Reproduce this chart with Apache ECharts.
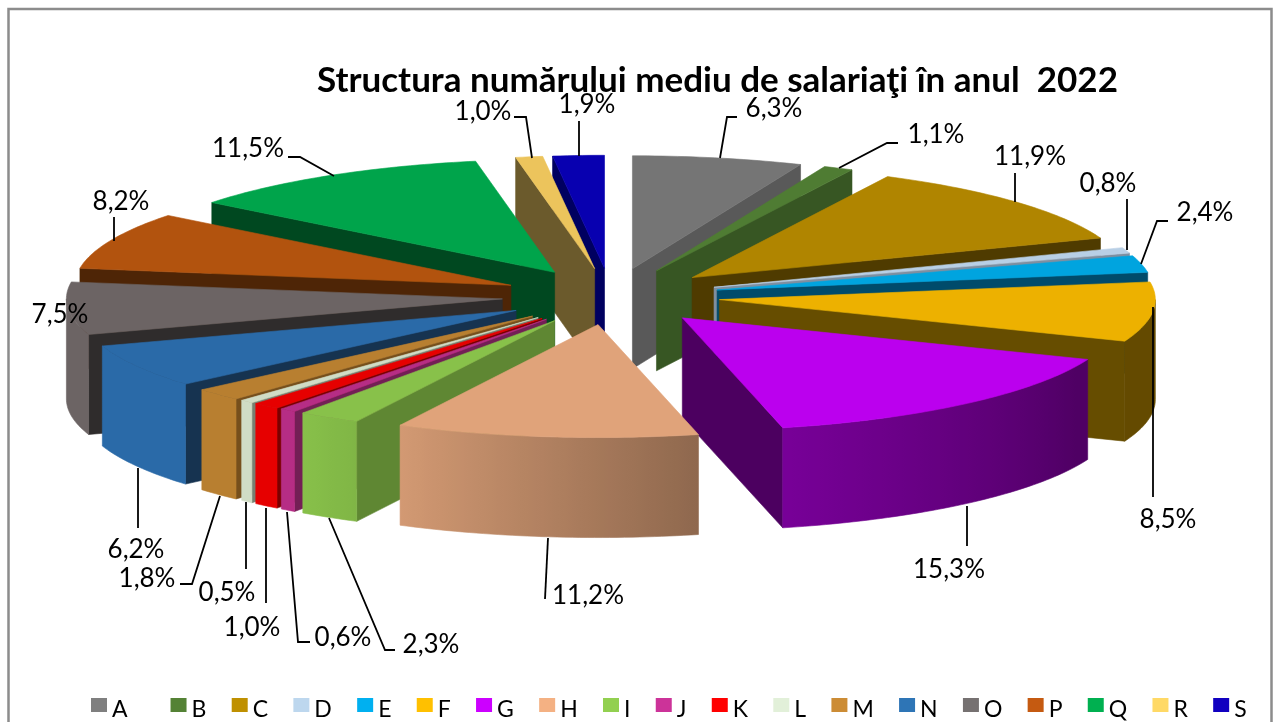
<!DOCTYPE html>
<html>
<head>
<meta charset="utf-8">
<title>Structura numarului mediu de salariati</title>
<script src="https://cdn.jsdelivr.net/npm/echarts@6/dist/echarts.min.js"></script>
<style>
  html, body { margin: 0; padding: 0; background: #fff; }
  #chart { width: 1275px; height: 722px; }
</style>
</head>
<body>
<div id="chart"></div>
<script>
const categories = ['A', 'B', 'C', 'D', 'E', 'F', 'G', 'H', 'I', 'J', 'K', 'L', 'M', 'N', 'O', 'P', 'Q', 'R', 'S'];
const shares = [6.3, 1.1, 11.9, 0.8, 2.4, 8.5, 15.3, 11.2, 2.3, 0.6, 1.0, 0.5, 1.8, 6.2, 7.5, 8.2, 11.5, 1.0, 1.9];

// legend colour, top face colour, cut face colour
const legendColors = ['#7f7f7f', '#548235', '#bf9000', '#bdd7ee', '#00b0f0', '#ffc000', '#cc00ff', '#f4b183', '#92d050', '#cc3399', '#ff0000', '#e2f0d9', '#cc8c35', '#2e75b6', '#767171', '#c55a11', '#00b050', '#ffd966', '#1100c0'];
const topColors = ['#757575', '#4f7c33', '#b08500', '#b8cfe5', '#00a4df', '#edb100', '#bb00ee', '#e0a37a', '#88c14a', '#b62d85', '#e60000', '#d0dcc5', '#b87f30', '#2a6aa8', '#6c6464', '#b2530e', '#00a44b', '#ecc45c', '#0800b0'];
const wallColors = ['#595959', '#375623', '#4f3b00', '#7f8fa0', '#004b6b', '#664d00', '#4c0060', '#96694c', '#5f8733', '#731f55', '#7a0000', '#777f70', '#764f1c', '#163350', '#2f2c2c', '#4e2506', '#004820', '#6b5a2c', '#000060'];

// label centre and leader line for each slice, same order as categories
const labelCenters = [[774, 109], [936, 135], [1030, 157], [1108, 184], [1205, 213], [1168, 520], [949, 570], [588, 596], [431, 645], [343, 638], [252, 628], [227, 593], [147, 579], [136, 550], [60, 315], [121, 202], [248, 149], [483, 112], [587, 105]];
const leaderLines = [
  [[737, 117], [727, 117], [720, 158]],
  [[898, 143], [887, 143], [839, 168]],
  [[1015, 173], [1015, 202]],
  [[1127, 199], [1127, 250]],
  [[1168, 221], [1157, 221], [1141, 264]],
  [[1153, 307], [1153, 497]],
  [[967, 506], [967, 546]],
  [[548, 538], [545, 599]],
  [[329, 518], [385, 650], [395, 650]],
  [[287, 512], [298, 642], [310, 642]],
  [[266, 508], [266, 603]],
  [[246, 502], [246, 569]],
  [[220, 496], [192, 584], [180, 584]],
  [[138, 468], [138, 528]],
  [],
  [[114, 217], [114, 241]],
  [[288, 157], [300, 157], [334, 176]],
  [[514, 117], [526, 117], [532, 158]],
  [[579, 121], [579, 156]]
];

// pie geometry in pixels
const pie = { cx: 611, cy: 296.5, rx: 436, ry: 113, depth: 100, explode: 0.25 };

// how much of the top colour the outer rim keeps, by angle (light comes from lower left)
const rimShade = [[90, 0.42], [115, 0.42], [167, 0.64], [207, 0.94], [216, 1], [360, 1]];

const total = shares.reduce((a, b) => a + b, 0);
let running = 0;
const slices = shares.map((v) => {
  const start = running / total * 360;
  running += v;
  return { start: start, end: running / total * 360 };
});

function rad(d) { return d * Math.PI / 180; }

function shadeAt(angle) {
  for (let i = 1; i < rimShade.length; i++) {
    if (angle <= rimShade[i][0]) {
      const a = rimShade[i - 1], b = rimShade[i];
      return a[1] + (b[1] - a[1]) * (angle - a[0]) / (b[0] - a[0]);
    }
  }
  return 1;
}

function mix(hex, f) {
  const n = parseInt(hex.slice(1), 16);
  return 'rgb(' + Math.round((n >> 16) * f) + ',' + Math.round(((n >> 8) & 255) * f) + ',' + Math.round((n & 255) * f) + ')';
}

function renderSlice(i) {
  const s = slices[i];
  const mid = (s.start + s.end) / 2;
  const ox = pie.cx + pie.explode * pie.rx * Math.sin(rad(mid));
  const oy = pie.cy - pie.explode * pie.ry * Math.cos(rad(mid));
  const rim = (a) => [ox + pie.rx * Math.sin(rad(a)), oy - pie.ry * Math.cos(rad(a))];
  const down = (p) => [p[0], p[1] + pie.depth];
  const face = (points, color) => ({
    type: 'polygon',
    shape: { points: points },
    style: { fill: color, stroke: color, lineWidth: 0.6 }
  });

  const children = [];
  const apex = [ox, oy];

  // cut faces that look towards the viewer
  if (Math.sin(rad(s.start)) < -0.001) {
    const p = rim(s.start);
    children.push(face([apex, p, down(p), down(apex)], wallColors[i]));
  }
  if (Math.sin(rad(s.end)) > 0.001) {
    const p = rim(s.end);
    children.push(face([apex, p, down(p), down(apex)], wallColors[i]));
  }

  // outer rim, only the part on the near side, shaded left to right
  const a0 = Math.max(s.start, 90);
  const a1 = Math.min(s.end, 270);
  if (a1 > a0) {
    const steps = Math.max(1, Math.ceil(a1 - a0));
    const upper = [], lower = [];
    for (let k = 0; k <= steps; k++) {
      const p = rim(a0 + (a1 - a0) * k / steps);
      upper.push(p);
      lower.unshift(down(p));
    }
    const xRight = upper[0][0];
    const xLeft = upper[steps][0];
    const stops = [];
    for (let k = steps; k >= 0; k--) {
      stops.push({
        offset: (upper[k][0] - xLeft) / (xRight - xLeft),
        color: mix(topColors[i], shadeAt(a0 + (a1 - a0) * k / steps))
      });
    }
    const gradient = { type: 'linear', x: xLeft, y: 0, x2: xRight, y2: 0, global: true, colorStops: stops };
    children.push({
      type: 'polygon',
      shape: { points: upper.concat(lower) },
      style: { fill: gradient, stroke: gradient, lineWidth: 0.6 }
    });
  }

  const top = [apex];
  const topSteps = Math.max(1, Math.ceil(s.end - s.start));
  for (let k = 0; k <= topSteps; k++) top.push(rim(s.start + (s.end - s.start) * k / topSteps));
  children.push(face(top, topColors[i]));
  return { type: 'group', children: children };
}

function renderLabel(params) {
  const i = params.dataIndex;
  const children = [];
  if (leaderLines[i].length) {
    children.push({
      type: 'polyline',
      shape: { points: leaderLines[i] },
      style: { stroke: '#000', lineWidth: 1.8, fill: null }
    });
  }
  children.push({
    type: 'text',
    style: {
      x: labelCenters[i][0],
      y: labelCenters[i][1],
      text: shares[i].toFixed(1).replace('.', ',') + '%',
      font: '26px Lato',
      fill: '#000',
      align: 'center',
      verticalAlign: 'middle'
    }
  });
  return { type: 'group', children: children };
}

const chart = echarts.init(document.getElementById('chart'));

// one custom series per slice so the legend works; nearer slices get a higher z
const sliceSeries = categories.map((name, i) => {
  const mid = (slices[i].start + slices[i].end) / 2;
  return {
    type: 'custom',
    name: name,
    coordinateSystem: 'none',
    silent: true,
    z: 10 - Math.cos(rad(mid)) * 5,
    itemStyle: { color: legendColors[i] },
    data: [shares[i]],
    renderItem: () => renderSlice(i)
  };
});

chart.setOption({
  animation: false,
  backgroundColor: '#fff',
  title: {
    text: 'Structura numărului mediu de salariaţi în anul  2022',
    left: 312,
    top: 58,
    textStyle: { fontFamily: 'Lato', fontWeight: 'bold', fontSize: 35, color: '#000' }
  },
  legend: {
    data: categories,
    left: 91,
    top: 698,
    width: 1182,
    padding: 0,
    icon: 'rect',
    itemWidth: 16,
    itemHeight: 14,
    itemGap: 25.3,
    selectedMode: false,
    formatter: (name) => '{t|' + (name === 'A' ? 'A   ' : name) + '}',
    textStyle: {
      rich: { t: { fontFamily: 'Lato', fontSize: 23, color: '#000', padding: [10, 0, 0, 0] } }
    }
  },
  graphic: [{
    type: 'rect',
    silent: true,
    shape: { x: 8.5, y: 9, width: 1263, height: 740 },
    style: { fill: null, stroke: '#8c8c8c', lineWidth: 2.5 }
  }],
  series: sliceSeries.concat([{
    type: 'custom',
    name: 'labels',
    coordinateSystem: 'none',
    silent: true,
    z: 30,
    data: shares,
    renderItem: renderLabel
  }])
});
</script>
</body>
</html>
